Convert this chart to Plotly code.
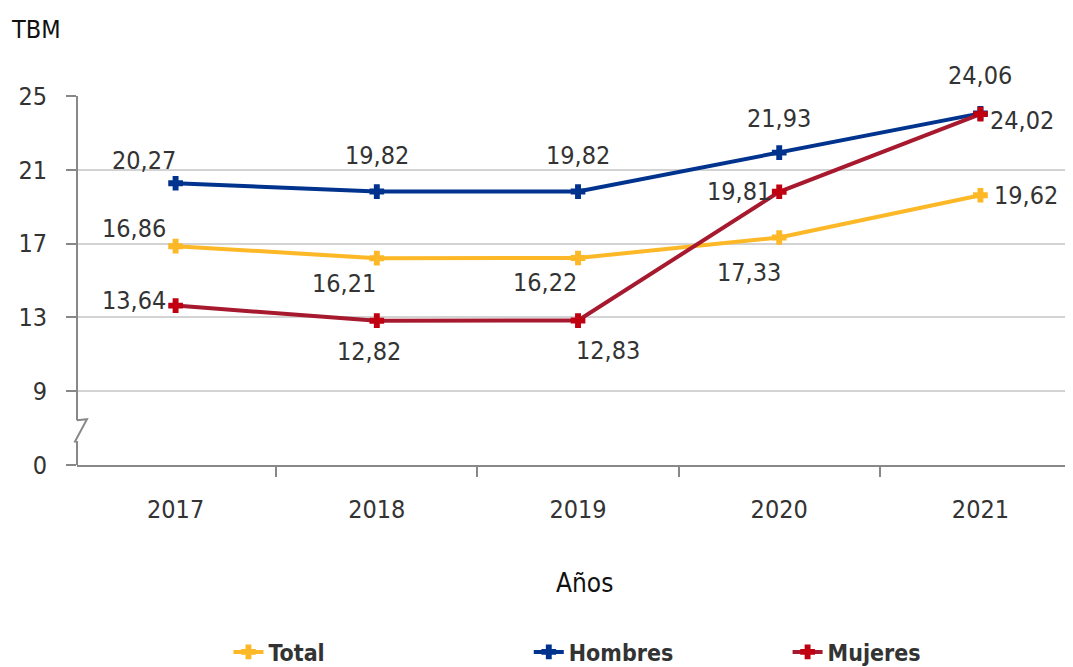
import plotly.graph_objects as go

years = ["2017", "2018", "2019", "2020", "2021"]
total = [16.86, 16.21, 16.22, 17.33, 19.62]
hombres = [20.27, 19.82, 19.82, 21.93, 24.06]
mujeres = [13.64, 12.82, 12.83, 19.81, 24.02]

y_tickvals = [5, 9, 13, 17, 21, 25]
y_ticktext = ["0", "9", "13", "17", "21", "25"]

FONT = "DejaVu Sans Condensed, Liberation Sans Narrow, sans-serif"
TXT = "#333333"
FS = 25

xi = list(range(len(years)))

series = [
    ("Total", total, "#FDB827", "#FDB827", "legend",
     [(-42, 18), (-33, -25), (-33, -25), (-30, -35), (46, 0)]),
    ("Hombres", hombres, "#00338D", "#00338D", "legend2",
     [(-32, 23), (0, 36), (0, 36), (0, 34), (0, 38)]),
    ("Mujeres", mujeres, "#A6192E", "#C00010", "legend3",
     [(-42, 5), (-8, -31), (30, -30), (-40, 0), (42, -6)]),
]

fig = go.Figure()
annotations = []
for name, vals, lc, mc, lg, offs in series:
    fig.add_trace(go.Scatter(
        x=xi, y=vals, name=name, mode="lines+markers",
        line=dict(color=lc, width=4),
        marker=dict(symbol="cross", size=11, color=mc, line=dict(color=mc, width=1.5)),
        legend=lg, cliponaxis=False,
    ))
    for i, v in enumerate(vals):
        annotations.append(dict(
            x=i, y=v, xref="x", yref="y", showarrow=False,
            text=f"{v:.2f}".replace(".", ","),
            xshift=offs[i][0], yshift=offs[i][1],
            xanchor="center", yanchor="middle",
            font=dict(family=FONT, size=FS, color=TXT),
        ))

annotations.append(dict(x=-0.041, y=1.179, xref="paper", yref="paper", showarrow=False,
                        xanchor="center", yanchor="middle",
                        text="TBM", font=dict(family=FONT, size=FS, color="#111111")))
annotations.append(dict(x=0.51, y=-0.32, xref="paper", yref="paper", showarrow=False,
                        xanchor="center", yanchor="middle",
                        text="Años", font=dict(family=FONT, size=FS + 1, color="#111111")))

AX = "#888888"
shapes = [
    dict(type="line", xref="paper", yref="y", x0=0, x1=0, y0=7.43, y1=25,
         line=dict(color=AX, width=2)),
    dict(type="line", xref="paper", yref="y", x0=0, x1=0, y0=5, y1=6.24,
         line=dict(color=AX, width=2)),
    dict(type="path", xref="paper", yref="y",
         path="M 0,7.43 L 0.01,7.48 L -0.002,6.27 L 0.001,6.24",
         line=dict(color=AX, width=2)),
]

leg_common = dict(orientation="h", yanchor="middle", y=0.0228, yref="container",
                  xanchor="left", xref="container",
                  font=dict(family=FONT, size=23, color=TXT, weight="bold"),
                  bgcolor="rgba(0,0,0,0)")

fig.update_layout(
    width=1065, height=659,
    margin=dict(l=69, r=0, t=88, b=202),
    plot_bgcolor="white", paper_bgcolor="white",
    showlegend=True,
    font=dict(family=FONT, size=FS, color=TXT),
    xaxis=dict(
        range=[-0.49, 4.46], tickmode="array", tickvals=xi, ticktext=years,
        ticks="", showgrid=False, zeroline=False,
        showline=True, linecolor=AX, linewidth=2,
        ticklabelstandoff=21,
        tickfont=dict(family=FONT, size=FS, color=TXT),
        minor=dict(tickmode="array", tickvals=[-0.5, 0.5, 1.5, 2.5, 3.5, 4.5],
                   ticks="outside", ticklen=10, tickcolor=AX, tickwidth=2, showgrid=False),
    ),
    yaxis=dict(
        range=[5, 25], tickmode="array", tickvals=y_tickvals, ticktext=y_ticktext,
        ticks="outside", ticklen=10, tickcolor=AX, tickwidth=2,
        showline=False, zeroline=False,
        showgrid=True, gridcolor="#D3D3D3", gridwidth=1.5,
        ticklabelstandoff=14,
        tickfont=dict(family=FONT, size=FS, color=TXT),
    ),
    legend=dict(x=0.207, **leg_common),
    legend2=dict(x=0.489, **leg_common),
    legend3=dict(x=0.732, **leg_common),
    annotations=annotations,
    shapes=shapes,
)

fig.write_html("out.html")
